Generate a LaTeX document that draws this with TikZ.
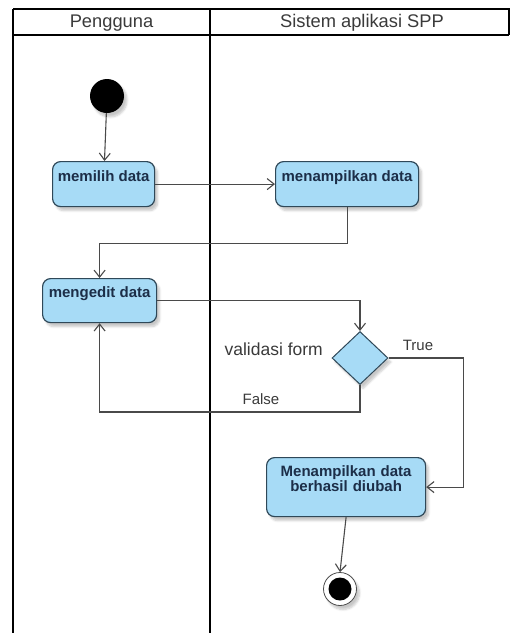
\documentclass[tikz,border=0pt]{standalone}
\usepackage{fontspec}
\setmainfont{Liberation Sans}
\usetikzlibrary{arrows.meta,shapes.geometric,shadows.blur}

\definecolor{actfill}{HTML}{A7DBF6}
\definecolor{actdraw}{HTML}{2F4858}
\definecolor{acttext}{HTML}{1C2E48}
\definecolor{flowgray}{HTML}{4A4A4A}
\definecolor{headgray}{HTML}{3A3A3A}

\begin{document}
\begin{tikzpicture}[x=1pt,y=-1pt,
  lane/.style={line width=2.4pt,black},
  headtext/.style={font=\fontsize{18.3}{20}\selectfont,text=headgray,inner sep=0pt},
  softshadow/.style={blur shadow={shadow xshift=3pt,shadow yshift=-4pt,shadow blur steps=6,shadow opacity=22}},
  action/.style={draw=actdraw,fill=actfill,line width=1.2pt,rounded corners=8pt,
    font=\bfseries\fontsize{15}{14.5}\selectfont,text=acttext,
    inner xsep=2pt,inner ysep=0pt,anchor=north west,softshadow},
  decision/.style={diamond,draw=actdraw,fill=actfill,line width=1pt,
    minimum width=56pt,minimum height=53pt,inner sep=0pt,softshadow},
  flow/.style={draw=flowgray,line width=1.1pt,
    -{Straight Barb[length=7pt,width=11pt,line width=1.1pt]}},
  guard/.style={font=\fontsize{15}{17}\selectfont,text=headgray,inner sep=0pt},
]
\useasboundingbox (0,0) rectangle (510,633);

% swimlane frame
\draw[lane] (13,9) -- (509,9) -- (509,35);
\draw[lane] (13,35) -- (509,35);
\draw[lane] (13,9) -- (13,640);
\draw[lane] (210,9) -- (210,640);
\node[headtext] (hpeng) at (111.5,23) {Pengguna};
\node[headtext] (hsys) at (362,23) {Sistem aplikasi SPP};

% initial node
\node[circle,fill=black,minimum size=34pt,inner sep=0pt,softshadow] (start) at (107,96) {};

% actions
\node[action,minimum width=102pt,text height=20pt,text depth=25pt] (pilih) at (52,161) {memilih data};
\node[action,minimum width=143pt,text height=20pt,text depth=25pt] (tampil) at (275,161) {menampilkan data};
\node[action,minimum width=114pt,text height=19pt,text depth=25pt] (edit) at (42,278) {mengedit data};
\node[action,minimum width=159pt,text width=150pt,align=center,text height=19pt,text depth=40pt] (hasil) at (266,457) {Menampilkan data\\berhasil diubah};

% decision
\node[decision] (valid) at (360,358) {};
\node[font=\fontsize{17.5}{20}\selectfont,text=headgray,inner sep=0pt,anchor=east] (vlabel) at (323,349) {validasi form};
\node[guard] (gtrue) at (418,345) {True};
\node[guard] (gfalse) at (261,399) {False};

% final node
\node[circle,draw=black!70,fill=white,line width=0.8pt,minimum size=33pt,inner sep=0pt,softshadow] (final) at (340,589) {};
\node[circle,fill=black,minimum size=23pt,inner sep=0pt] (finalin) at (final.center) {};

% control flows
\draw[flow] (start) -- (pilih);
\draw[flow] (pilih.east) -- (tampil.west);
\draw[flow] (tampil.south) -- ++(0,36) -| (edit.north);
\draw[flow] (edit.east) -| (valid.north);
\draw[flow] (valid.east) -- ++(75,0) |- (hasil.east);
\draw[flow] (valid.south) -- ++(0,27) -| (edit.south);
\draw[flow] (hasil.south) -- (final.north);
\end{tikzpicture}
\end{document}
